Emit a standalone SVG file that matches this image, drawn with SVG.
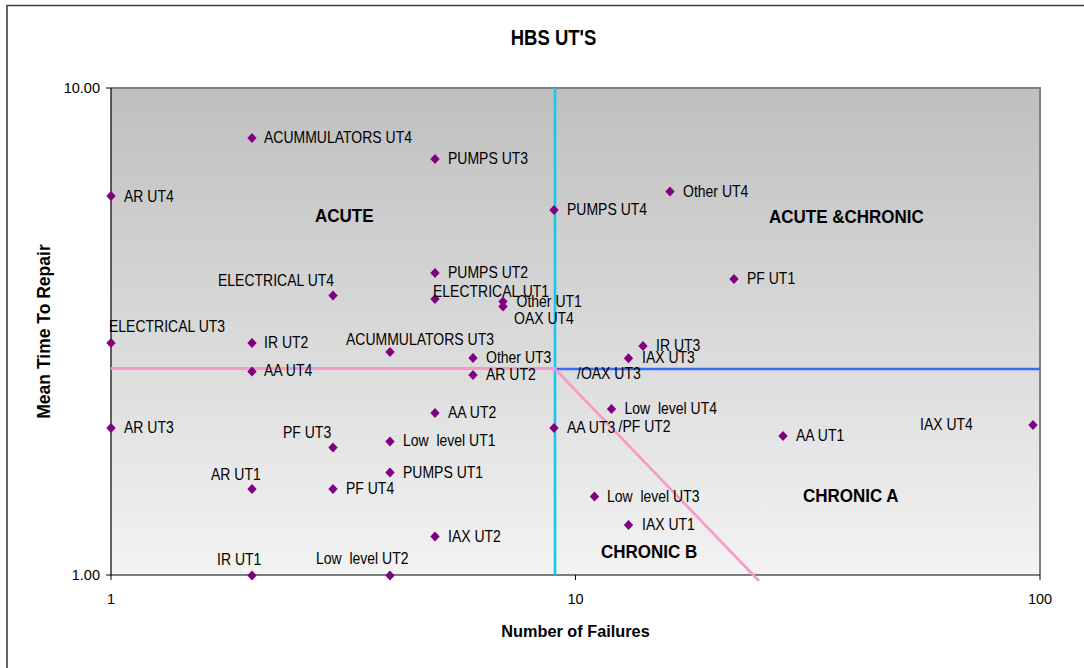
<svg xmlns="http://www.w3.org/2000/svg" width="1084" height="668" viewBox="0 0 1084 668">
<style>
 .lb{font-family:"Liberation Sans",Arial,sans-serif;font-size:14px;fill:#000}
 .rg{font-family:"Liberation Sans",Arial,sans-serif;font-size:17px;font-weight:bold;fill:#000}
 .tk{font-family:"Liberation Sans",Arial,sans-serif;font-size:14.5px;fill:#000}
 .ttl{font-family:"Liberation Sans",Arial,sans-serif;font-weight:bold;fill:#000}
 .mk{fill:#800080}
 .cn{fill:none;stroke-linecap:butt}
</style>
<defs>
 <linearGradient id="bg" x1="0" y1="0" x2="0" y2="1"><stop offset="0" stop-color="#bfbfbf"/><stop offset="1" stop-color="#f3f3f3"/></linearGradient>
 <path id="dm" d="M0,-5L4.7,0L0,5L-4.7,0Z"/>
</defs>
<rect width="1084" height="668" fill="#fff"/>
<path d="M7,668V5.5H1084" fill="none" stroke="#404040" stroke-width="1.6"/>
<text class="ttl" font-size="18.5" text-anchor="middle" transform="translate(553.5 45) scale(1 1.15)">HBS UT'S</text>
<g id="plot">
 <rect x="111" y="88" width="929" height="487" fill="url(#bg)"/>
 <path d="M111,88H1040V575" fill="none" stroke="#808080" stroke-width="2"/>
 <path d="M111,88V575H1040" fill="none" stroke="#000" stroke-width="1.2"/>
 <path d="M106,88H111M106,575H111M111,575V580M575.5,575V580M1040,575V580" stroke="#000" stroke-width="1"/>
 <text class="tk" text-anchor="end" x="100" y="92.5">10.00</text>
 <text class="tk" text-anchor="end" x="100" y="579.5">1.00</text>
 <text class="tk" text-anchor="middle" x="111" y="604">1</text>
 <text class="tk" text-anchor="middle" x="575.5" y="604">10</text>
 <text class="tk" text-anchor="middle" x="1040" y="604">100</text>
 <text class="ttl" font-size="16.3" text-anchor="middle" x="575.5" y="637">Number of Failures</text>
 <text class="ttl" font-size="17.5" text-anchor="middle" transform="translate(50 331.5) rotate(-90)">Mean Time To Repair</text>
</g>
<g id="connectors">
 <line class="cn" x1="555" y1="88" x2="555" y2="575" stroke="#18c6f2" stroke-width="2.6"/>
 <line class="cn" x1="555" y1="369" x2="1040" y2="369" stroke="#3a6cf5" stroke-width="2.6"/>
 <line class="cn" x1="111" y1="368.5" x2="556" y2="368.5" stroke="#f59acb" stroke-width="3"/>
 <line class="cn" x1="555" y1="369" x2="759" y2="581" stroke="#f59acb" stroke-width="2.6"/>
</g>
<g id="regions">
 <text class="rg" transform="translate(315 221.5) scale(1 1.1)">ACUTE</text>
 <text class="rg" transform="translate(769 222.5) scale(1 1.1)">ACUTE &amp;CHRONIC</text>
 <text class="rg" transform="translate(803 502.3) scale(1 1.1)">CHRONIC A</text>
 <text class="rg" transform="translate(601 558.3) scale(1 1.1)">CHRONIC B</text>
</g>
<g id="n-acc-ut4"><use href="#dm" class="mk" x="252" y="138"/><text class="lb" transform="translate(264 143) scale(1 1.15)">ACUMMULATORS UT4</text></g>
<g id="n-pumps-ut3"><use href="#dm" class="mk" x="435" y="159"/><text class="lb" transform="translate(448 164) scale(1 1.15)">PUMPS UT3</text></g>
<g id="n-ar-ut4"><use href="#dm" class="mk" x="111" y="196"/><text class="lb" transform="translate(124 201.5) scale(1 1.15)">AR UT4</text></g>
<g id="n-pumps-ut4"><use href="#dm" class="mk" x="554" y="210"/><text class="lb" transform="translate(567 215) scale(1 1.15)">PUMPS UT4</text></g>
<g id="n-other-ut4"><use href="#dm" class="mk" x="670" y="191.5"/><text class="lb" transform="translate(683 196.5) scale(1 1.15)">Other UT4</text></g>
<g id="n-pf-ut1"><use href="#dm" class="mk" x="734" y="279"/><text class="lb" transform="translate(747 284) scale(1 1.15)">PF UT1</text></g>
<g id="n-pumps-ut2"><use href="#dm" class="mk" x="435" y="273"/><text class="lb" transform="translate(448 278) scale(1 1.15)">PUMPS UT2</text></g>
<g id="n-elec-ut4"><use href="#dm" class="mk" x="333" y="295.5"/><text class="lb" transform="translate(218 286) scale(1 1.15)">ELECTRICAL UT4</text></g>
<g id="n-elec-ut1"><use href="#dm" class="mk" x="435" y="299"/><text class="lb" transform="translate(433 296.5) scale(1 1.15)">ELECTRICAL UT1</text></g>
<g id="n-other-ut1"><use href="#dm" class="mk" x="503" y="301.5"/><text class="lb" transform="translate(516.5 306.5) scale(1 1.15)">Other UT1</text></g>
<g id="n-oax-ut4"><use href="#dm" class="mk" x="503" y="306.5"/><text class="lb" transform="translate(514 323.5) scale(1 1.15)">OAX UT4</text></g>
<g id="n-elec-ut3"><use href="#dm" class="mk" x="111" y="343"/><text class="lb" transform="translate(109 331.5) scale(1 1.15)">ELECTRICAL UT3</text></g>
<g id="n-ir-ut2"><use href="#dm" class="mk" x="252" y="343"/><text class="lb" transform="translate(264 348) scale(1 1.15)">IR UT2</text></g>
<g id="n-acc-ut3"><use href="#dm" class="mk" x="390" y="352"/><text class="lb" transform="translate(346 345) scale(1 1.15)">ACUMMULATORS UT3</text></g>
<g id="n-other-ut3"><use href="#dm" class="mk" x="473" y="358"/><text class="lb" transform="translate(486 363) scale(1 1.15)">Other UT3</text></g>
<g id="n-aa-ut4"><use href="#dm" class="mk" x="252" y="371.5"/><text class="lb" transform="translate(264 376) scale(1 1.15)">AA UT4</text></g>
<g id="n-ar-ut2"><use href="#dm" class="mk" x="473" y="375"/><text class="lb" transform="translate(486 379.5) scale(1 1.15)">AR UT2</text></g>
<g id="n-ir-ut3"><use href="#dm" class="mk" x="643" y="346"/><text class="lb" transform="translate(656 351) scale(1 1.15)">IR UT3</text></g>
<g id="n-iax-ut3"><use href="#dm" class="mk" x="628.5" y="358.3"/><text class="lb" transform="translate(642 363) scale(1 1.15)">IAX UT3</text></g>
<g id="n-oax-ut3"><text class="lb" transform="translate(577 378.5) scale(1 1.15)">/OAX UT3</text></g>
<g id="n-aa-ut2"><use href="#dm" class="mk" x="435" y="413"/><text class="lb" transform="translate(448 418) scale(1 1.15)">AA UT2</text></g>
<g id="n-ar-ut3"><use href="#dm" class="mk" x="111" y="428"/><text class="lb" transform="translate(124 433) scale(1 1.15)">AR UT3</text></g>
<g id="n-aa-ut3"><use href="#dm" class="mk" x="554" y="428"/><text class="lb" transform="translate(567 433) scale(1 1.15)">AA UT3</text></g>
<g id="n-pf-ut2"><text class="lb" transform="translate(618.5 431.5) scale(1 1.15)">/PF UT2</text></g>
<g id="n-pf-ut3"><use href="#dm" class="mk" x="333" y="447.5"/><text class="lb" transform="translate(283 438) scale(1 1.15)">PF UT3</text></g>
<g id="n-ll-ut1"><use href="#dm" class="mk" x="390" y="441.5"/><text class="lb" xml:space="preserve" transform="translate(403 446) scale(1 1.15)">Low  level UT1</text></g>
<g id="n-pumps-ut1"><use href="#dm" class="mk" x="390" y="472.5"/><text class="lb" transform="translate(403 477.5) scale(1 1.15)">PUMPS UT1</text></g>
<g id="n-ar-ut1"><use href="#dm" class="mk" x="252" y="489"/><text class="lb" transform="translate(211 480) scale(1 1.15)">AR UT1</text></g>
<g id="n-pf-ut4"><use href="#dm" class="mk" x="333" y="489"/><text class="lb" transform="translate(346 494) scale(1 1.15)">PF UT4</text></g>
<g id="n-iax-ut2"><use href="#dm" class="mk" x="435" y="536.5"/><text class="lb" transform="translate(448 541.5) scale(1 1.15)">IAX UT2</text></g>
<g id="n-ir-ut1"><use href="#dm" class="mk" x="252" y="575.5"/><text class="lb" transform="translate(217 565) scale(1 1.15)">IR UT1</text></g>
<g id="n-ll-ut2"><use href="#dm" class="mk" x="390" y="575.5"/><text class="lb" xml:space="preserve" transform="translate(316 564) scale(1 1.15)">Low  level UT2</text></g>
<g id="n-ll-ut4"><use href="#dm" class="mk" x="611.5" y="409"/><text class="lb" xml:space="preserve" transform="translate(624.5 414) scale(1 1.15)">Low  level UT4</text></g>
<g id="n-aa-ut1"><use href="#dm" class="mk" x="783" y="436"/><text class="lb" transform="translate(796 441) scale(1 1.15)">AA UT1</text></g>
<g id="n-iax-ut4"><use href="#dm" class="mk" x="1033" y="425"/><text class="lb" transform="translate(920 430) scale(1 1.15)">IAX UT4</text></g>
<g id="n-ll-ut3"><use href="#dm" class="mk" x="594.5" y="496.5"/><text class="lb" xml:space="preserve" transform="translate(607 501.5) scale(1 1.15)">Low  level UT3</text></g>
<g id="n-iax-ut1"><use href="#dm" class="mk" x="628.5" y="525"/><text class="lb" transform="translate(642 530) scale(1 1.15)">IAX UT1</text></g>
</svg>
